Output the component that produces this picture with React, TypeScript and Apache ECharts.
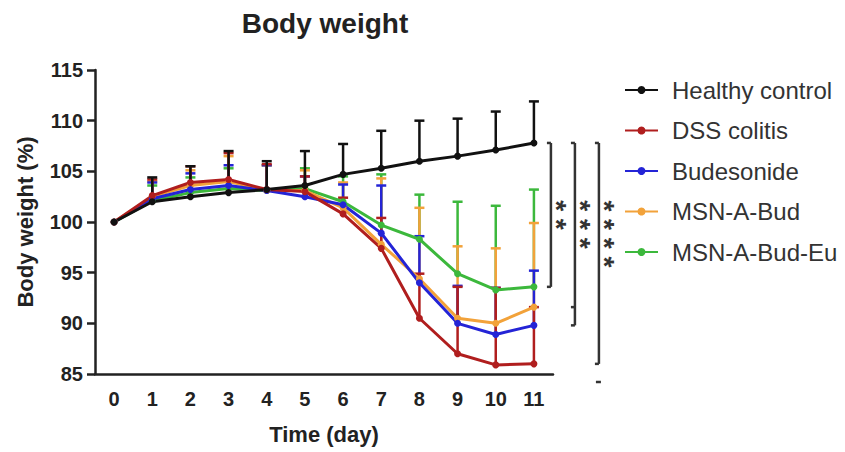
import React, { useEffect, useRef } from "react";
import * as echarts from "echarts";

const days = ["0", "1", "2", "3", "4", "5", "6", "7", "8", "9", "10", "11"];
const yTicks = [85, 90, 95, 100, 105, 110, 115];

const seriesNames = ["Healthy control", "DSS colitis", "Budesonide", "MSN-A-Bud", "MSN-A-Bud-Eu"];
const seriesColors = ["#111111", "#b01e1e", "#2424d6", "#f2a23a", "#3cb83c"];

const healthyMean = [100, 102.0, 102.5, 102.9, 103.2, 103.6, 104.7, 105.3, 106.0, 106.5, 107.1, 107.8];
const healthySD = [0, 2.4, 3.0, 4.1, 2.8, 3.4, 3.0, 3.7, 4.0, 3.7, 3.8, 4.1];
const dssMean = [100, 102.6, 103.9, 104.2, 103.2, 103.0, 100.8, 97.4, 90.5, 87.0, 85.9, 86.0];
const dssSD = [0, 1.6, 1.6, 2.6, 2.5, 1.5, 1.6, 3.0, 4.4, 6.6, 7.6, 5.6];
const budMean = [100, 102.3, 103.2, 103.6, 103.1, 102.5, 101.7, 98.9, 94.0, 90.0, 88.9, 89.8];
const budSD = [0, 1.6, 1.6, 2.0, 2.5, 2.0, 2.0, 4.7, 4.6, 3.7, 4.6, 5.4];
const msnMean = [100, 102.5, 103.6, 104.0, 103.1, 103.1, 101.4, 97.8, 94.4, 90.5, 90.0, 91.6];
const msnSD = [0, 1.5, 1.5, 2.5, 2.5, 2.0, 2.5, 6.5, 7.0, 7.1, 7.4, 8.3];
const msnEuMean = [100, 102.1, 102.9, 103.3, 103.1, 103.3, 102.0, 99.7, 98.3, 94.9, 93.3, 93.6];
const msnEuSD = [0, 1.5, 1.5, 2.0, 2.5, 2.0, 2.5, 5.0, 4.4, 7.1, 8.3, 9.6];

const sigStars = ["**", "***", "****"];

const means = [healthyMean, dssMean, budMean, msnMean, msnEuMean];
const sds = [healthySD, dssSD, budSD, msnSD, msnEuSD];

const FONT = "'Liberation Sans', Arial, Helvetica, sans-serif";

export default function App() {
  const ref = useRef<HTMLDivElement>(null);
  useEffect(() => {
    if (!ref.current) return;
    const chart = echarts.init(ref.current, null, { renderer: "svg" });

    const lineSeries: any[] = [];
    const barSeries: any[] = [];
    // draw in reverse order so that Healthy control ends on top
    for (let k = seriesNames.length - 1; k >= 0; k--) {
      const color = seriesColors[k];
      barSeries.push({
        type: "custom",
        name: seriesNames[k] + " SD",
        z: 1,
        data: days.map((d, i) => [i, means[k][i], sds[k][i]]),
        encode: { x: 0, y: 1 },
        renderItem: (params: any, api: any) => {
          const x = api.value(0);
          const m = api.value(1);
          const sd = api.value(2);
          if (!(sd > 0)) return null;
          const p0 = api.coord([x, m]);
          const p1 = api.coord([x, m + sd]);
          const hw = 5;
          return {
            type: "group",
            children: [
              { type: "line", shape: { x1: p0[0], y1: p0[1], x2: p1[0], y2: p1[1] }, style: { stroke: color, lineWidth: 2.5 } },
              { type: "line", shape: { x1: p1[0] - hw, y1: p1[1], x2: p1[0] + hw, y2: p1[1] }, style: { stroke: color, lineWidth: 2.5 } },
            ],
          };
        },
      });
      lineSeries.push({
        type: "line",
        name: seriesNames[k],
        z: 3,
        data: means[k],
        symbol: "circle",
        symbolSize: 7,
        showSymbol: true,
        color,
        itemStyle: { color },
        lineStyle: { color, width: 3 },
      });
    }

    chart.setOption({
      animation: false,
      backgroundColor: "#ffffff",
      title: {
        text: "Body weight",
        left: 320,
        top: 4,
        textAlign: "center",
        textStyle: { fontFamily: FONT, fontSize: 28, fontWeight: "bold", color: "#222" },
      },
      legend: {
        orient: "vertical",
        left: 619,
        top: 73,
        data: seriesNames,
        itemWidth: 33,
        itemHeight: 10,
        itemGap: 16.5,
        textStyle: { fontFamily: FONT, fontSize: 24, color: "#333", lineHeight: 24, padding: [0, 0, 0, 9] },
      },
      grid: { left: 95, right: 292, top: 70, bottom: 78 },
      xAxis: {
        type: "category",
        data: days,
        boundaryGap: true,
        name: "Time (day)",
        nameLocation: "middle",
        nameGap: 49,
        nameTextStyle: { fontFamily: FONT, fontSize: 22, fontWeight: "bold", color: "#222" },
        axisLine: { lineStyle: { color: "#222", width: 2.5 } },
        axisTick: { alignWithLabel: true, length: 7, lineStyle: { color: "#222", width: 2.5 } },
        axisLabel: { fontFamily: FONT, fontSize: 20, fontWeight: "bold", color: "#222", margin: 15 },
      },
      yAxis: {
        type: "value",
        min: yTicks[0],
        max: yTicks[yTicks.length - 1],
        interval: 5,
        name: "Body weight (%)",
        nameLocation: "middle",
        nameRotate: 90,
        nameGap: 59,
        nameTextStyle: { fontFamily: FONT, fontSize: 22, fontWeight: "bold", color: "#222" },
        splitLine: { show: false },
        axisLine: { show: true, lineStyle: { color: "#222", width: 2.5 } },
        axisTick: { show: true, length: 8, lineStyle: { color: "#222", width: 2.5 } },
        axisLabel: { fontFamily: FONT, fontSize: 20, fontWeight: "bold", color: "#222", margin: 12 },
      },
      series: [...barSeries, ...lineSeries],
    });

    // significance brackets, positioned from data values at day 11
    const last = days.length - 1;
    const px = (v: number) => chart.convertToPixel({ gridIndex: 0 }, [last, v]) as number[];
    const xBase = px(healthyMean[last])[0];
    const yTop = px(healthyMean[last])[1];
    const bottoms = [msnEuMean[last], budMean[last], dssMean[last]].map((v) => px(v)[1]);
    const ticks = [null, px(msnMean[last])[1], null];
    const offsets = [17, 41, 65];
    const stroke = { stroke: "#333", lineWidth: 2.5 };
    const graphics: any[] = [];
    const starTop = (yTop + bottoms[0]) / 2 - 9.5;
    offsets.forEach((off, b) => {
      const x = xBase + off;
      graphics.push({ type: "line", shape: { x1: x, y1: yTop, x2: x, y2: bottoms[b] }, style: stroke });
      graphics.push({ type: "line", shape: { x1: x - 4, y1: yTop, x2: x, y2: yTop }, style: stroke });
      graphics.push({ type: "line", shape: { x1: x - 4, y1: bottoms[b], x2: x, y2: bottoms[b] }, style: stroke });
      const t = ticks[b];
      if (t !== null) graphics.push({ type: "line", shape: { x1: x - 4, y1: t, x2: x, y2: t }, style: stroke });
      const stars = sigStars[b];
      const n = stars.length;
      graphics.push({
        type: "text",
        x: x + 6,
        y: starTop + ((n - 1) * 19) / 2,
        rotation: -Math.PI / 2,
        style: {
          text: stars.split("").join(" "),
          fontFamily: FONT,
          fontSize: 28,
          fontWeight: "bold",
          fill: "#333",
          textAlign: "center",
          textVerticalAlign: "middle",
        },
      });
    });
    const y85 = px(yTicks[0])[1];
    graphics.push({ type: "line", shape: { x1: xBase + 62, y1: y85 + 8, x2: xBase + 67, y2: y85 + 8 }, style: stroke });
    chart.setOption({ graphic: graphics });

    return () => chart.dispose();
  }, []);

  return <div ref={ref} style={{ position: "fixed", left: 0, top: 0, width: 845, height: 452, background: "#fff" }} />;
}
